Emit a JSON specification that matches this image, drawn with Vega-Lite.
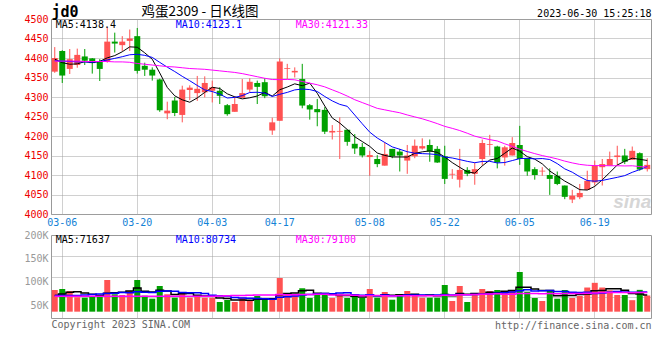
{
  "$schema": "https://vega.github.io/schema/vega-lite/v6.json",
  "padding": {"left": 23, "top": 3, "right": 10, "bottom": 0},
  "background": "white",
  "config": {
    "font": "DejaVu Sans Mono",
    "view": {"stroke": "#999999", "strokeWidth": 1},
    "axis": {"gridColor": "#a0a0a0", "gridDash": [1, 1], "gridWidth": 1, "domain": false, "ticks": false, "labelFont": "DejaVu Sans Mono", "labelFontSize": 10, "titleFont": "DejaVu Sans Mono", "titleFontSize": 10, "titleFontWeight": "normal", "labelFlush": false, "labelOverlap": false, "titleColor": "#000000"}
  },
  "datasets": {
    "k": [
      {"d":"03-03","o":4365,"h":4428,"l":4362,"c":4400,"v":82700,"m5":4397,"m10":4393,"m30":4392,"vm5":71000,"vm10":71000,"vm30":69500},
      {"d":"03-06","o":4418,"h":4420,"l":4336,"c":4355,"v":84900,"m5":4388,"m10":4392,"m30":4392,"vm5":74000,"vm10":71000,"vm30":69500},
      {"d":"03-07","o":4372,"h":4423,"l":4359,"c":4397,"v":80600,"m5":4384,"m10":4391,"m30":4392,"vm5":78000,"vm10":71000,"vm30":69500},
      {"d":"03-08","o":4382,"h":4424,"l":4375,"c":4408,"v":67200,"m5":4385,"m10":4390,"m30":4392,"vm5":79000,"vm10":71000,"vm30":69500},
      {"d":"03-09","o":4404,"h":4423,"l":4382,"c":4393,"v":66300,"m5":4390.6,"m10":4390,"m30":4391,"vm5":76300,"vm10":72000,"vm30":69500},
      {"d":"03-10","o":4399,"h":4400,"l":4360,"c":4387,"v":68400,"m5":4388.0,"m10":4389,"m30":4391,"vm5":73500,"vm10":73000,"vm30":69500},
      {"d":"03-13","o":4392,"h":4397,"l":4341,"c":4372,"v":72100,"m5":4391.4,"m10":4391,"m30":4391,"vm5":70900,"vm10":74000,"vm30":69500},
      {"d":"03-14","o":4391,"h":4478,"l":4388,"c":4442,"v":104100,"m5":4400.4,"m10":4395,"m30":4391,"vm5":75600,"vm10":75000,"vm30":69500},
      {"d":"03-15","o":4442,"h":4465,"l":4414,"c":4437,"v":73600,"m5":4406.2,"m10":4399,"m30":4390,"vm5":76900,"vm10":76000,"vm30":69500},
      {"d":"03-16","o":4433,"h":4456,"l":4418,"c":4442,"v":72100,"m5":4416.0,"m10":4403.3,"m30":4390,"vm5":78100,"vm10":77200,"vm30":69500},
      {"d":"03-17","o":4444,"h":4473,"l":4418,"c":4450,"v":80600,"m5":4428.6,"m10":4408.3,"m30":4389,"vm5":80500,"vm10":77000,"vm30":69500},
      {"d":"03-20","o":4456,"h":4477,"l":4360,"c":4367,"v":104100,"m5":4427.6,"m10":4409.5,"m30":4386,"vm5":86900,"vm10":78900,"vm30":69500},
      {"d":"03-21","o":4380,"h":4388,"l":4354,"c":4370,"v":70600,"m5":4413.2,"m10":4406.8,"m30":4384,"vm5":80200,"vm10":77900,"vm30":69500},
      {"d":"03-22","o":4370,"h":4376,"l":4342,"c":4355,"v":64200,"m5":4396.8,"m10":4401.5,"m30":4382,"vm5":78300,"vm10":77600,"vm30":69500},
      {"d":"03-23","o":4345,"h":4347,"l":4262,"c":4266,"v":91300,"m5":4361.6,"m10":4388.8,"m30":4380,"vm5":82200,"vm10":80100,"vm30":69500},
      {"d":"03-24","o":4258,"h":4288,"l":4243,"c":4265,"v":73600,"m5":4324.6,"m10":4376.6,"m30":4378,"vm5":80800,"vm10":80600,"vm30":69500},
      {"d":"03-27","o":4291,"h":4300,"l":4251,"c":4259,"v":66300,"m5":4303.0,"m10":4365.3,"m30":4377,"vm5":73200,"vm10":80100,"vm30":69500},
      {"d":"03-28","o":4254,"h":4329,"l":4235,"c":4319,"v":78500,"m5":4292.8,"m10":4353.0,"m30":4375,"vm5":74800,"vm10":77500,"vm30":69500},
      {"d":"03-29","o":4318,"h":4330,"l":4292,"c":4324,"v":66300,"m5":4286.6,"m10":4341.7,"m30":4373,"vm5":75200,"vm10":76800,"vm30":69500},
      {"d":"03-30","o":4310,"h":4354,"l":4290,"c":4321,"v":72100,"m5":4297.6,"m10":4329.6,"m30":4372,"vm5":71400,"vm10":76800,"vm30":69500},
      {"d":"03-31","o":4312,"h":4353,"l":4299,"c":4336,"v":66300,"m5":4311.8,"m10":4318.2,"m30":4371,"vm5":69900,"vm10":75300,"vm30":69500},
      {"d":"04-03","o":4316,"h":4342,"l":4286,"c":4325,"v":66300,"m5":4325.0,"m10":4314.0,"m30":4369,"vm5":69900,"vm10":71600,"vm30":69500},
      {"d":"04-04","o":4316,"h":4325,"l":4282,"c":4303,"v":57100,"m5":4321.8,"m10":4307.3,"m30":4367,"vm5":65600,"vm10":70200,"vm30":70000},
      {"d":"04-06","o":4279,"h":4282,"l":4252,"c":4256,"v":61400,"m5":4308.2,"m10":4297.4,"m30":4365,"vm5":64600,"vm10":69900,"vm30":70500},
      {"d":"04-07","o":4262,"h":4302,"l":4262,"c":4282,"v":57100,"m5":4300.4,"m10":4299.0,"m30":4363,"vm5":61600,"vm10":66500,"vm30":71000},
      {"d":"04-10","o":4298,"h":4346,"l":4298,"c":4310,"v":66300,"m5":4295.2,"m10":4303.5,"m30":4360,"vm5":61600,"vm10":65800,"vm30":71000},
      {"d":"04-11","o":4319,"h":4348,"l":4312,"c":4339,"v":61400,"m5":4298.0,"m10":4311.5,"m30":4356,"vm5":60700,"vm10":65300,"vm30":71500},
      {"d":"04-12","o":4336,"h":4342,"l":4282,"c":4326,"v":70000,"m5":4302.6,"m10":4312.2,"m30":4352,"vm5":63200,"vm10":64400,"vm30":72000},
      {"d":"04-13","o":4338,"h":4348,"l":4297,"c":4302,"v":61400,"m5":4311.8,"m10":4310.0,"m30":4348,"vm5":63200,"vm10":63900,"vm30":72000},
      {"d":"04-14","o":4214,"h":4247,"l":4203,"c":4235,"v":61400,"m5":4302.4,"m10":4301.4,"m30":4344.8,"vm5":64100,"vm10":62900,"vm30":72300},
      {"d":"04-17","o":4239,"h":4399,"l":4239,"c":4391,"v":108300,"m5":4318.6,"m10":4306.9,"m30":4344.5,"vm5":72500,"vm10":67100,"vm30":73100},
      {"d":"04-18","o":4372,"h":4385,"l":4346,"c":4374,"v":76300,"m5":4325.6,"m10":4311.8,"m30":4345.1,"vm5":75500,"vm10":68100,"vm30":72800},
      {"d":"04-19","o":4363,"h":4376,"l":4350,"c":4367,"v":73600,"m5":4333.8,"m10":4318.2,"m30":4344.1,"vm5":76200,"vm10":69700,"vm30":72600},
      {"d":"04-20","o":4346,"h":4385,"l":4271,"c":4278,"v":86400,"m5":4329.0,"m10":4320.4,"m30":4339.8,"vm5":81200,"vm10":72200,"vm30":73300},
      {"d":"04-21","o":4279,"h":4282,"l":4242,"c":4268,"v":65700,"m5":4335.6,"m10":4319.0,"m30":4335.6,"vm5":82100,"vm10":73100,"vm30":73200},
      {"d":"04-24","o":4269,"h":4295,"l":4225,"c":4261,"v":76300,"m5":4309.6,"m10":4314.1,"m30":4331.4,"vm5":75700,"vm10":74100,"vm30":73500},
      {"d":"04-25","o":4267,"h":4274,"l":4205,"c":4211,"v":74200,"m5":4277.0,"m10":4301.3,"m30":4326.0,"vm5":75200,"vm10":75400,"vm30":73600},
      {"d":"04-26","o":4209,"h":4228,"l":4191,"c":4213,"v":65700,"m5":4246.2,"m10":4290.0,"m30":4318.4,"vm5":73700,"vm10":74900,"vm30":72300},
      {"d":"04-27","o":4211,"h":4248,"l":4141,"c":4213,"v":73600,"m5":4233.2,"m10":4281.1,"m30":4310.9,"vm5":71100,"vm10":76200,"vm30":72300},
      {"d":"04-28","o":4216,"h":4216,"l":4175,"c":4185,"v":65700,"m5":4216.6,"m10":4276.1,"m30":4302.4,"vm5":71100,"vm10":76600,"vm30":72100},
      {"d":"05-04","o":4180,"h":4205,"l":4154,"c":4168,"v":68400,"m5":4198.0,"m10":4253.8,"m30":4293.0,"vm5":69500,"vm10":72600,"vm30":71700},
      {"d":"05-05","o":4172,"h":4182,"l":4145,"c":4150,"v":65700,"m5":4185.8,"m10":4231.4,"m30":4285.7,"vm5":67800,"vm10":71500,"vm30":70400},
      {"d":"05-08","o":4146,"h":4162,"l":4098,"c":4151,"v":84900,"m5":4173.4,"m10":4209.8,"m30":4278.4,"vm5":71700,"vm10":72700,"vm30":70900},
      {"d":"05-09","o":4141,"h":4151,"l":4120,"c":4128,"v":66300,"m5":4156.4,"m10":4194.8,"m30":4270.9,"vm5":70200,"vm10":70700,"vm30":70900},
      {"d":"05-10","o":4124,"h":4184,"l":4124,"c":4154,"v":78500,"m5":4150.2,"m10":4183.4,"m30":4267.1,"vm5":72800,"vm10":71900,"vm30":70500},
      {"d":"05-11","o":4167,"h":4167,"l":4143,"c":4148,"v":62000,"m5":4146.2,"m10":4172.1,"m30":4263.2,"vm5":71500,"vm10":70500,"vm30":70100},
      {"d":"05-12","o":4160,"h":4167,"l":4109,"c":4150,"v":72100,"m5":4146.2,"m10":4166.0,"m30":4259.6,"vm5":72800,"vm10":70300,"vm30":70300},
      {"d":"05-15","o":4137,"h":4177,"l":4103,"c":4150,"v":80600,"m5":4146.0,"m10":4159.7,"m30":4254.0,"vm5":71900,"vm10":71800,"vm30":70400},
      {"d":"05-16","o":4148,"h":4191,"l":4143,"c":4175,"v":74200,"m5":4155.4,"m10":4155.9,"m30":4249.0,"vm5":73500,"vm10":71800,"vm30":70600},
      {"d":"05-17","o":4168,"h":4194,"l":4165,"c":4174,"v":66300,"m5":4159.4,"m10":4154.8,"m30":4244.1,"vm5":71000,"vm10":71900,"vm30":70500},
      {"d":"05-18","o":4177,"h":4191,"l":4134,"c":4160,"v":66300,"m5":4161.8,"m10":4154.0,"m30":4238.2,"vm5":71900,"vm10":71700,"vm30":70500},
      {"d":"05-19","o":4167,"h":4174,"l":4131,"c":4132,"v":66300,"m5":4158.2,"m10":4152.2,"m30":4231.8,"vm5":70700,"vm10":71800,"vm30":70500},
      {"d":"05-22","o":4148,"h":4175,"l":4077,"c":4090,"v":93400,"m5":4146.2,"m10":4146.1,"m30":4224.7,"vm5":73300,"vm10":72600,"vm30":71700},
      {"d":"05-23","o":4101,"h":4115,"l":4090,"c":4103,"v":59300,"m5":4131.8,"m10":4143.6,"m30":4219.6,"vm5":70300,"vm10":71900,"vm30":71600},
      {"d":"05-24","o":4088,"h":4167,"l":4068,"c":4113,"v":91300,"m5":4119.6,"m10":4139.5,"m30":4214.0,"vm5":75300,"vm10":73200,"vm30":72700},
      {"d":"05-25","o":4113,"h":4120,"l":4097,"c":4103,"v":57100,"m5":4108.2,"m10":4135.0,"m30":4207.1,"vm5":73500,"vm10":72700,"vm30":72400},
      {"d":"05-26","o":4103,"h":4132,"l":4075,"c":4115,"v":76300,"m5":4104.8,"m10":4131.5,"m30":4199.6,"vm5":75500,"vm10":73100,"vm30":72900},
      {"d":"05-29","o":4141,"h":4191,"l":4124,"c":4182,"v":84900,"m5":4123.2,"m10":4134.7,"m30":4194.8,"vm5":73800,"vm10":73500,"vm30":73400},
      {"d":"05-30","o":4177,"h":4203,"l":4150,"c":4179,"v":80600,"m5":4138.4,"m10":4135.1,"m30":4190.7,"vm5":78000,"vm10":74200,"vm30":74100},
      {"d":"05-31","o":4173,"h":4175,"l":4117,"c":4132,"v":82700,"m5":4142.2,"m10":4130.9,"m30":4187.3,"vm5":76300,"vm10":75800,"vm30":74800},
      {"d":"06-01","o":4145,"h":4175,"l":4124,"c":4171,"v":76300,"m5":4155.8,"m10":4132.0,"m30":4179.9,"vm5":80200,"vm10":76800,"vm30":73700},
      {"d":"06-02","o":4150,"h":4197,"l":4150,"c":4182,"v":82700,"m5":4169.2,"m10":4137.0,"m30":4173.5,"vm5":81400,"vm10":78500,"vm30":73900},
      {"d":"06-05","o":4177,"h":4226,"l":4126,"c":4141,"v":121100,"m5":4161.0,"m10":4142.1,"m30":4166.0,"vm5":88700,"vm10":81200,"vm30":75500},
      {"d":"06-06","o":4143,"h":4143,"l":4098,"c":4109,"v":79100,"m5":4147.0,"m10":4142.7,"m30":4160.4,"vm5":88400,"vm10":83200,"vm30":75300},
      {"d":"06-07","o":4115,"h":4120,"l":4088,"c":4100,"v":65700,"m5":4140.6,"m10":4141.4,"m30":4154.8,"vm5":85000,"vm10":80700,"vm30":75300},
      {"d":"06-08","o":4109,"h":4120,"l":4098,"c":4111,"v":59300,"m5":4128.6,"m10":4142.2,"m30":4149.8,"vm5":81600,"vm10":80900,"vm30":74700},
      {"d":"06-09","o":4100,"h":4117,"l":4049,"c":4090,"v":82700,"m5":4110.2,"m10":4139.7,"m30":4145.7,"vm5":81600,"vm10":81500,"vm30":75000},
      {"d":"06-12","o":4098,"h":4109,"l":4074,"c":4077,"v":64200,"m5":4097.4,"m10":4129.2,"m30":4141.2,"vm5":70200,"vm10":79400,"vm30":74900},
      {"d":"06-13","o":4073,"h":4073,"l":4038,"c":4044,"v":82700,"m5":4084.4,"m10":4115.7,"m30":4135.6,"vm5":70900,"vm10":79700,"vm30":75200},
      {"d":"06-14","o":4037,"h":4062,"l":4028,"c":4047,"v":65700,"m5":4073.8,"m10":4107.2,"m30":4131.0,"vm5":70900,"vm10":78000,"vm30":75200},
      {"d":"06-15","o":4043,"h":4077,"l":4038,"c":4054,"v":70000,"m5":4062.4,"m10":4095.5,"m30":4127.2,"vm5":73100,"vm10":77300,"vm30":75300},
      {"d":"06-16","o":4062,"h":4111,"l":4062,"c":4085,"v":88000,"m5":4061.4,"m10":4085.8,"m30":4125.0,"vm5":74100,"vm10":77900,"vm30":76000},
      {"d":"06-19","o":4081,"h":4137,"l":4073,"c":4124,"v":98000,"m5":4070.8,"m10":4084.1,"m30":4124.1,"vm5":80900,"vm10":75500,"vm30":76500},
      {"d":"06-20","o":4120,"h":4141,"l":4073,"c":4128,"v":88000,"m5":4087.6,"m10":4086.0,"m30":4124.1,"vm5":81900,"vm10":76400,"vm30":77200},
      {"d":"06-21","o":4124,"h":4160,"l":4124,"c":4141,"v":82000,"m5":4106.4,"m10":4090.1,"m30":4123.7,"vm5":85200,"vm10":78100,"vm30":77300},
      {"d":"06-26","o":4146,"h":4175,"l":4124,"c":4150,"v":72000,"m5":4125.6,"m10":4094.0,"m30":4123.7,"vm5":85600,"vm10":79300,"vm30":77600},
      {"d":"06-27","o":4150,"h":4167,"l":4128,"c":4134,"v":72000,"m5":4135.4,"m10":4098.4,"m30":4123.2,"vm5":82400,"vm10":78300,"vm30":77600},
      {"d":"06-28","o":4139,"h":4173,"l":4139,"c":4162,"v":61000,"m5":4143.0,"m10":4106.9,"m30":4123.6,"vm5":75000,"vm10":77900,"vm30":77000},
      {"d":"06-29","o":4156,"h":4158,"l":4111,"c":4114,"v":83000,"m5":4140.2,"m10":4113.9,"m30":4121.6,"vm5":74000,"vm10":78000,"vm30":77300},
      {"d":"06-30","o":4115,"h":4143,"l":4109,"c":4126,"v":71000,"m5":4137.2,"m10":4121.8,"m30":4120.0,"vm5":71800,"vm10":78500,"vm30":77400}
    ]
  },
  "bounds": "flush",
  "spacing": 21,
  "resolve": {"scale": {"x": "independent", "y": "independent"}},
  "vconcat": [
    {
      "width": 600,
      "height": 195,
      "data": {"name": "k"},
      "resolve": {"axis": {"x": "independent", "y": "independent"}},
      "layer": [
        {
          "data": {"values": [{"t": "sina"}]},
          "mark": {"type": "text", "align": "center", "baseline": "middle", "font": "Liberation Sans", "fontSize": 19, "fontStyle": "italic", "fontWeight": "bold", "color": "#d6d6d6"},
          "encoding": {
            "x": {"datum": "06-28", "type": "ordinal", "axis": null},
            "y": {"datum": 4030, "type": "quantitative", "axis": null},
            "text": {"field": "t"}
          }
        },
        {
          "mark": {"type": "rule", "strokeWidth": 1},
          "encoding": {
            "x": {"field": "d", "type": "ordinal", "scale": {"paddingInner": 0, "paddingOuter": 0},
                  "axis": {"orient": "bottom", "values": ["03-06","03-20","04-03","04-17","05-08","05-22","06-05","06-19"], "bandPosition": 0.5, "grid": true, "labelAngle": 0, "labelColor": "#1382d6", "labelPadding": 3, "title": null}},
            "y": {"field": "l", "type": "quantitative", "scale": {"domain": [4000, 4500], "zero": false, "nice": false},
                  "axis": {"values": [4000,4050,4100,4150,4200,4250,4300,4350,4400,4450,4500], "format": "d", "grid": true, "labelColor": "#ee0000", "labelPadding": 3,
                           "title": "jd0", "titleAngle": 0, "titleX": 0, "titleY": -8, "titleAlign": "left", "titleBaseline": "middle", "titleFontSize": 15, "titleFontWeight": "bold"}},
            "y2": {"field": "h"},
            "color": {"condition": {"test": "datum.c >= datum.o", "value": "#ff5252"}, "value": "#00a000"}
          }
        },
        {
          "mark": {"type": "bar", "size": 6},
          "encoding": {
            "x": {"field": "d", "type": "ordinal", "axis": null},
            "y": {"field": "o", "type": "quantitative", "axis": null},
            "y2": {"field": "c"},
            "color": {"condition": {"test": "datum.c >= datum.o", "value": "#ff5252"}, "value": "#00a000"}
          }
        },
        {
          "mark": {"type": "line", "strokeWidth": 1, "color": "#000000"},
          "encoding": {
            "x": {"field": "d", "type": "ordinal", "axis": null},
            "y": {"field": "m5", "type": "quantitative", "axis": null}
          }
        },
        {
          "mark": {"type": "line", "strokeWidth": 1, "color": "#0000ff"},
          "encoding": {
            "x": {"field": "d", "type": "ordinal", "axis": null},
            "y": {"field": "m10", "type": "quantitative", "axis": null}
          }
        },
        {
          "mark": {"type": "line", "strokeWidth": 1, "color": "#ff00ff"},
          "encoding": {
            "x": {"field": "d", "type": "ordinal",
                  "axis": {"orient": "top", "labels": false, "grid": false, "title": "鸡蛋2309 - 日K线图", "titleFont": "Noto Sans CJK SC", "titleFontSize": 13.5, "titleX": 90, "titleY": -8, "titleAlign": "left", "titleBaseline": "middle", "titleAnchor": "start"}},
            "y": {"field": "m30", "type": "quantitative",
                  "axis": {"orient": "right", "labels": false, "grid": false, "title": "2023-06-30 15:25:18", "titleAngle": 0, "titleX": 0, "titleY": -6, "titleAlign": "right", "titleBaseline": "middle"}}
          }
        },
        {
          "data": {"values": [{"t": "MA5:4138.4"}]},
          "mark": {"type": "text", "align": "left", "baseline": "middle", "dx": 1, "font": "DejaVu Sans Mono", "fontSize": 10, "color": "#000000"},
          "encoding": {
            "x": {"datum": "03-03", "type": "ordinal", "axis": null},
            "y": {"datum": 4484, "type": "quantitative", "axis": null},
            "text": {"field": "t"}
          }
        },
        {
          "data": {"values": [{"t": "MA10:4123.1"}]},
          "mark": {"type": "text", "align": "left", "baseline": "middle", "dx": 1, "font": "DejaVu Sans Mono", "fontSize": 10, "color": "#0000ff"},
          "encoding": {
            "x": {"datum": "03-27", "type": "ordinal", "axis": null},
            "y": {"datum": 4484, "type": "quantitative", "axis": null},
            "text": {"field": "t"}
          }
        },
        {
          "data": {"values": [{"t": "MA30:4121.33"}]},
          "mark": {"type": "text", "align": "left", "baseline": "middle", "dx": 1, "font": "DejaVu Sans Mono", "fontSize": 10, "color": "#ff00ff"},
          "encoding": {
            "x": {"datum": "04-19", "type": "ordinal", "axis": null},
            "y": {"datum": 4484, "type": "quantitative", "axis": null},
            "text": {"field": "t"}
          }
        }
      ]
    },
    {
      "width": 600,
      "height": 83,
      "data": {"name": "k"},
      "resolve": {"axis": {"x": "independent", "y": "independent"}},
      "layer": [
        {
          "mark": {"type": "bar", "size": 6},
          "encoding": {
            "x": {"field": "d", "type": "ordinal", "scale": {"paddingInner": 0, "paddingOuter": 0},
                  "axis": {"orient": "bottom", "values": ["03-06","03-20","04-03","04-17","05-08","05-22","06-05","06-19"], "bandPosition": 0.5, "grid": true, "labels": false,
                           "title": "http://finance.sina.com.cn", "titleX": 600, "titleY": 7, "titleAlign": "right", "titleBaseline": "middle", "titleColor": "#666666"}},
            "y": {"field": "v", "type": "quantitative", "scale": {"domain": [23000, 200000], "zero": false, "nice": false},
                  "axis": {"values": [50000, 100000, 150000, 200000], "grid": false, "labelColor": "#999999", "labelPadding": 3, "labelExpr": "datum.value / 1000 + 'K'",
                           "title": "Copyright 2023 SINA.COM", "titleAngle": 0, "titleX": 0, "titleY": 89, "titleAlign": "left", "titleBaseline": "middle", "titleColor": "#666666"}},
            "y2": {"datum": 36500},
            "color": {"condition": {"test": "datum.c >= datum.o", "value": "#ff5252"}, "value": "#00a000"}
          }
        },
        {
          "mark": {"type": "line", "strokeWidth": 1.5, "color": "#000000", "interpolate": "step"},
          "encoding": {
            "x": {"field": "d", "type": "ordinal", "axis": null},
            "y": {"field": "vm5", "type": "quantitative", "axis": null}
          }
        },
        {
          "mark": {"type": "line", "strokeWidth": 1.5, "color": "#0000ff", "interpolate": "step"},
          "encoding": {
            "x": {"field": "d", "type": "ordinal", "axis": null},
            "y": {"field": "vm10", "type": "quantitative", "axis": null}
          }
        },
        {
          "mark": {"type": "line", "strokeWidth": 1.5, "color": "#ff00ff", "interpolate": "step"},
          "encoding": {
            "x": {"field": "d", "type": "ordinal", "axis": null},
            "y": {"field": "vm30", "type": "quantitative",
                  "axis": {"orient": "right", "values": [67250, 111500, 155750], "labels": false, "grid": true, "title": null}}
          }
        },
        {
          "data": {"values": [{"t": "MA5:71637"}]},
          "mark": {"type": "text", "align": "left", "baseline": "middle", "dx": 1, "font": "DejaVu Sans Mono", "fontSize": 10, "color": "#000000"},
          "encoding": {
            "x": {"datum": "03-03", "type": "ordinal", "axis": null},
            "y": {"datum": 189300, "type": "quantitative", "axis": null},
            "text": {"field": "t"}
          }
        },
        {
          "data": {"values": [{"t": "MA10:80734"}]},
          "mark": {"type": "text", "align": "left", "baseline": "middle", "dx": 1, "font": "DejaVu Sans Mono", "fontSize": 10, "color": "#0000ff"},
          "encoding": {
            "x": {"datum": "03-27", "type": "ordinal", "axis": null},
            "y": {"datum": 189300, "type": "quantitative", "axis": null},
            "text": {"field": "t"}
          }
        },
        {
          "data": {"values": [{"t": "MA30:79100"}]},
          "mark": {"type": "text", "align": "left", "baseline": "middle", "dx": 1, "font": "DejaVu Sans Mono", "fontSize": 10, "color": "#ff00ff"},
          "encoding": {
            "x": {"datum": "04-19", "type": "ordinal", "axis": null},
            "y": {"datum": 189300, "type": "quantitative", "axis": null},
            "text": {"field": "t"}
          }
        }
      ]
    }
  ]
}
